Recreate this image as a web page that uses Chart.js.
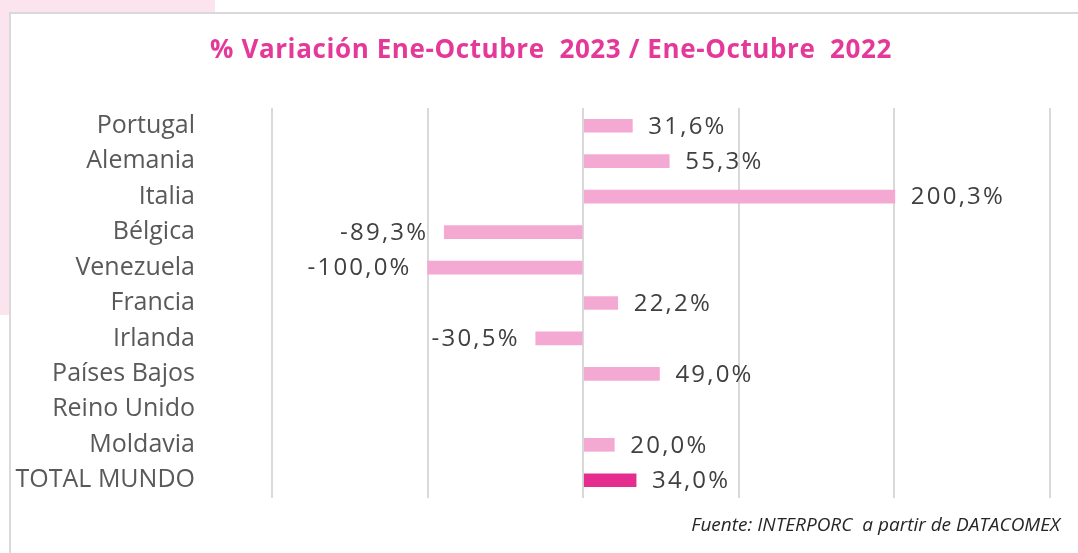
<!DOCTYPE html>
<html lang="es">
<head>
<meta charset="utf-8">
<script src="https://cdn.jsdelivr.net/npm/chart.js@4.4.1/dist/chart.umd.min.js"></script>
<style>
  html, body { margin: 0; padding: 0; width: 1078px; height: 553px; overflow: hidden; background: #ffffff; }
  #pinkBlock { position: absolute; left: 0; top: 0; width: 215px; height: 315px; background: #fbe4ee; }
  #panel { position: absolute; left: 9px; top: 12px; width: 1100px; height: 600px; background: #ffffff; border: 2px solid #d9d9d9; box-sizing: border-box; }
  #title { position: absolute; left: 0; width: 1102px; top: 30px; text-align: center; font-family: "Open Sans", sans-serif; font-weight: 700; font-size: 26px; letter-spacing: 0.6px; color: #e5399a; white-space: pre; }
  #source { position: absolute; right: 18px; top: 511px; font-family: "Open Sans", sans-serif; font-style: italic; font-size: 19px; color: #262626; white-space: pre; }
  #wrap { position: absolute; left: 0; top: 0; width: 1078px; height: 553px; }
</style>
</head>
<body>
<div id="pinkBlock"></div>
<div id="panel"></div>
<div id="wrap"><canvas id="chart"></canvas></div>
<div id="title">% Variación Ene-Octubre  2023 / Ene-Octubre  2022</div>
<div id="source">Fuente: INTERPORC  a partir de DATACOMEX</div>
<script>
// Export variation by destination, Jan–Oct 2023 vs Jan–Oct 2022 (%)
const countries = ["Portugal", "Alemania", "Italia", "Bélgica", "Venezuela", "Francia",
                   "Irlanda", "Países Bajos", "Reino Unido", "Moldavia", "TOTAL MUNDO"];
const variation = [31.6, 55.3, 200.3, -89.3, -100.0, 22.2, -30.5, 49.0, null, 20.0, 34.0];
const axisMin = -200;
const axisMax = 300;
const axisStep = 100;

const barFill = countries.map(c => c === "TOTAL MUNDO" ? "#e52d8f" : "#f4a9d3");

const fmt = v => v.toFixed(1).replace(".", ",") + "%";

// Draws the percentage next to the end of each bar
const valueLabels = {
  id: "valueLabels",
  afterDatasetsDraw(chart) {
    const ctx = chart.ctx;
    const meta = chart.getDatasetMeta(0);
    ctx.save();
    ctx.font = '24px "Open Sans", sans-serif';
    if ("letterSpacing" in ctx) ctx.letterSpacing = "2.2px";
    ctx.fillStyle = "#404040";
    ctx.textBaseline = "middle";
    meta.data.forEach((bar, i) => {
      const v = variation[i];
      if (v === null || v === undefined) return;
      if (v >= 0) {
        ctx.textAlign = "left";
        ctx.fillText(fmt(v), bar.x + 16, bar.y + 1);
      } else {
        ctx.textAlign = "right";
        ctx.fillText(fmt(v), bar.x - 16, bar.y + 1);
      }
    });
    ctx.restore();
  }
};

new Chart(document.getElementById("chart"), {
  type: "bar",
  data: {
    labels: countries,
    datasets: [{
      data: variation,
      backgroundColor: barFill,
      barThickness: 13,
      borderWidth: 0
    }]
  },
  options: {
    indexAxis: "y",
    responsive: true,
    maintainAspectRatio: false,
    animation: false,
    layout: { padding: { top: 108, bottom: 55, left: 0, right: 28 } },
    plugins: {
      legend: { display: false },
      tooltip: { enabled: false },
      title: { display: false }
    },
    scales: {
      x: {
        min: axisMin,
        max: axisMax,
        afterFit(scale) { scale.height = 0; },
        ticks: { display: false, stepSize: axisStep },
        grid: { color: "#d9d9d9", lineWidth: 2, drawTicks: false },
        border: { display: false }
      },
      y: {
        // fixed label column; the wide tick padding should not pad the plot vertically
        afterFit(scale) {
          scale.width = 272;
          scale.paddingTop = 0;
          scale.paddingBottom = 0;
        },
        ticks: {
          color: "#595959",
          padding: 77,
          font: { family: "Open Sans", size: 25 }
        },
        grid: { display: false, drawTicks: false },
        border: { display: false }
      }
    }
  },
  plugins: [valueLabels]
});
</script>
</body>
</html>
